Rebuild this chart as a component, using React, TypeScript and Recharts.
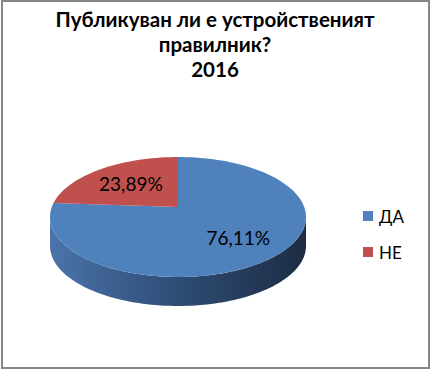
import React from "react"
import { PieChart, Pie, Legend } from "recharts"

const categories = ["ДА", "НЕ"]
const shares = [76.11, 23.89]
const colors = ["#4f81bd", "#c0504d"]
const titleLines = ["Публикуван ли е устройственият", "правилник?", "2016"]

const data = categories.map((name, i) => ({ name, value: shares[i] }))

// fake 3d pie: the top is an ellipse, the pie apex sits a bit above its centre
const CX = 178
const APEX_Y = 207
const ELL_Y = 217
const RX = 128
const RY = 60
const DEPTH = 29
const TILT = 0.47
const LABEL_POS = 0.62
const FONT = "Lato, 'Open Sans', sans-serif"

const rad = (d: number) => (d * Math.PI) / 180
const deg = (r: number) => (r * 180) / Math.PI

// where a ray from the apex at angle theta hits the rim of the ellipse
function rimHit(theta: number) {
  const dx = Math.cos(rad(theta))
  const dy = -Math.sin(rad(theta)) * TILT
  const u = dx / RX
  const v = dy / RY
  const w = (APEX_Y - ELL_Y) / RY
  const a = u * u + v * v
  const t = (-w * v + Math.sqrt(w * w * v * v - a * (w * w - 1))) / a
  const x = CX + t * dx
  const y = APEX_Y + t * dy
  let phi = deg(Math.atan2(-(y - ELL_Y) / RY, (x - CX) / RX))
  while (phi - theta > 180) phi -= 360
  while (theta - phi > 180) phi += 360
  return { t, dx, dy, phi }
}

const ellPoint = (phi: number, off = 0) => [CX + RX * Math.cos(rad(phi)), ELL_Y - RY * Math.sin(rad(phi)) + off]

function arcPoints(p1: number, p2: number, off = 0) {
  const n = Math.max(2, Math.ceil(Math.abs(p2 - p1) / 2) + 1)
  const pts = []
  for (let i = 0; i < n; i++) pts.push(ellPoint(p1 + ((p2 - p1) * i) / (n - 1), off))
  return pts
}

const toPath = (pts: number[][]) => pts.map((p, i) => `${i ? "L" : "M"}${p[0].toFixed(2)},${p[1].toFixed(2)}`).join(" ")

const renderSlice = (props: any) => {
  const { startAngle, endAngle, index, percent } = props
  const s = rimHit(startAngle)
  const e = rimHit(endAngle)
  const lo = Math.min(s.phi, e.phi)
  const hi = Math.max(s.phi, e.phi)

  // front wall: the part of the slice in the lower half of the ellipse
  const walls = []
  for (const [a, b] of [[-180, 0], [180, 360], [-540, -360]]) {
    const from = Math.max(lo, a)
    const to = Math.min(hi, b)
    if (to > from) {
      const top = arcPoints(from, to)
      const bottom = arcPoints(to, from, DEPTH)
      walls.push(toPath([...top, ...bottom]) + " Z")
    }
  }

  const top = `M${CX},${APEX_Y} ` + toPath(arcPoints(s.phi, e.phi)).replace(/^M/, "L") + " Z"

  const mid = rimHit((startAngle + endAngle) / 2)
  const lx = CX + mid.dx * mid.t * LABEL_POS
  const ly = APEX_Y + mid.dy * mid.t * LABEL_POS
  const text = (percent * 100).toFixed(2).replace(".", ",") + "%"

  return (
    <g>
      {index === 0 && (
        <defs>
          <linearGradient id="sideShade" gradientUnits="userSpaceOnUse" x1={CX - RX} y1={0} x2={CX + RX} y2={0}>
            <stop offset="0%" stopColor="#4b74ab" />
            <stop offset="45%" stopColor="#30507a" />
            <stop offset="100%" stopColor="#1d2c43" />
          </linearGradient>
        </defs>
      )}
      {walls.map((d, i) => (
        <path key={i} d={d} fill="url(#sideShade)" stroke="none" />
      ))}
      <path d={top} fill={colors[index]} stroke="none" />
      <text x={lx} y={ly} textAnchor="middle" dominantBaseline="central" fill="#000" fontSize={19} fontFamily={FONT}>
        {text}
      </text>
    </g>
  )
}

const LegendBox = () => (
  <div style={{ fontFamily: FONT, fontSize: 17, color: "#000" }}>
    {categories.map((c, i) => (
      <div key={c} style={{ display: "flex", alignItems: "center", height: 36 }}>
        <span style={{ display: "inline-block", width: 10, height: 10, background: colors[i], marginRight: 6 }} />
        <span>{c}</span>
      </div>
    ))}
  </div>
)

export default function App() {
  return (
    <div style={{ position: "absolute", left: 0, top: 0, width: 430, height: 369, background: "#fff" }}>
      <div
        style={{
          position: "absolute",
          left: 1,
          top: 0,
          width: 429,
          height: 369,
          boxSizing: "border-box",
          border: "2px solid #868686",
        }}
      />
      <div
        style={{
          position: "absolute",
          left: 0,
          top: 7,
          width: 430,
          textAlign: "center",
          fontFamily: FONT,
          fontWeight: "bold",
          fontSize: 20.5,
          lineHeight: "25px",
          color: "#000",
        }}
      >
        {titleLines.map((l) => (
          <div key={l}>{l}</div>
        ))}
      </div>
      <div style={{ position: "absolute", left: 0, top: 0 }}>
        <PieChart width={430} height={369} margin={{ top: 0, right: 0, bottom: 0, left: 0 }}>
          <Pie
            data={data}
            dataKey="value"
            nameKey="name"
            cx={CX}
            cy={APEX_Y}
            outerRadius={RX}
            startAngle={90}
            endAngle={-270}
            fill="none"
            stroke="none"
            label={renderSlice}
            labelLine={false}
            isAnimationActive={false}
          />
          <Legend
            content={<LegendBox />}
            layout="vertical"
            verticalAlign="top"
            align="left"
            wrapperStyle={{ left: 363, top: 198, width: 60 }}
          />
        </PieChart>
      </div>
    </div>
  )
}
